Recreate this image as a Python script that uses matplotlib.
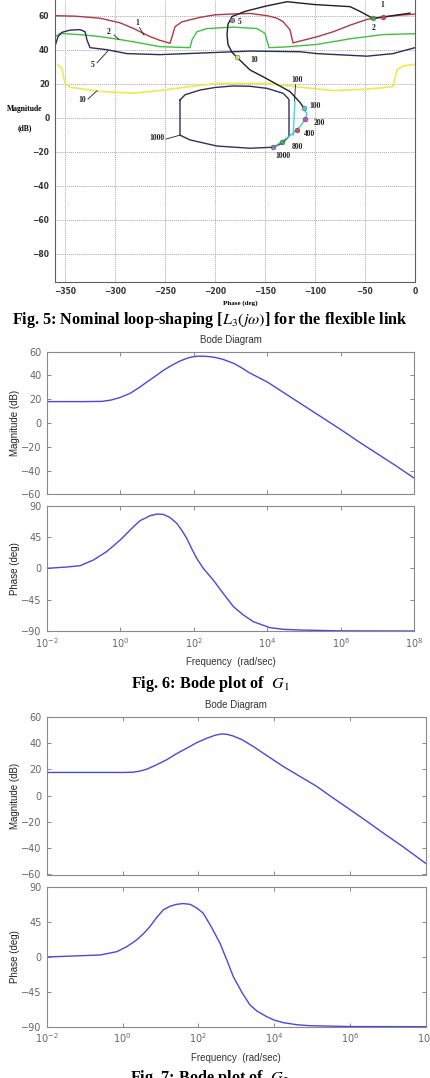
import numpy as np
import matplotlib
matplotlib.use("Agg")
import matplotlib.pyplot as plt

plt.rcParams["mathtext.fontset"] = "stix"

W, H = 431, 1078

# ---- Fig. 5: Nichols chart data (phase deg, magnitude dB) ----
b1_phase = [-360, -340, -315, -295, -282, -265, -255, -245, -243, -240, -233, -215, -200, -182, -165, -148, -138, -132, -125, -122,
            -110, -98, -82, -65, -48, -32, -15, 0]
b1_mag = [60, 59.7, 58.5, 55.8, 52.6, 47.7, 45.5, 43.8, 47.5, 53.5, 56.4, 59, 60.5, 61, 61.3, 60, 58.5, 56.5, 51.7, 44,
          45.8, 47.6, 50.5, 54.4, 57.8, 59.2, 60.3, 60.9]

b2_phase = [-360, -355, -332, -315, -290, -255, -225, -223, -218, -208, -182, -158, -150, -146, -130, -98, -65, -32, 0]
b2_mag = [47.5, 49.6, 48.7, 47.7, 45.5, 41.8, 41.2, 45.7, 50.6, 52.4, 53.3, 52.4, 49.6, 41.2, 41.6, 43.1, 46.4, 48.9, 49.4]

b5_phase = [-360, -357, -353, -345, -335, -330, -328, -325, -308, -288, -255, -198, -165, -115, -98, -48, -22, 0]
b5_mag = [42, 47.7, 50.2, 51.5, 51.8, 50.6, 45.7, 41.2, 40, 37.7, 37.1, 38.4, 39.2, 38.8, 37.7, 36.2, 37.7, 41.2]

b10_phase = [-357, -353, -350, -345, -315, -282, -255, -230, -198, -148, -115, -82, -48, -22, -18, -12, 0]
b10_mag = [31, 29, 20.2, 18, 15.5, 14.5, 16, 18, 20.2, 20.2, 18, 16, 16.8, 18.3, 28.1, 30.5, 31.3]

l3_phase = [-5, -32, -42, -55, -65, -100, -128, -150, -170, -183, -187, -188, -187, -183, -178, -165, -150, -125, -115, -111]
l3_mag = [61.5, 59.2, 58.4, 62.5, 65.3, 66.5, 68.2, 65.5, 62.5, 59.5, 55, 49, 43, 38.5, 35.5, 28.1, 23.5, 15.4, 9, 5.6]
l3_tail_phase = [-111, -108, -110, -114, -118.3, -126, -133.3, -141.7]
l3_tail_mag = [5.6, 2, -0.9, -4.5, -7.2, -11, -14, -17.3]

loop_phase = [-235, -230, -215, -200, -182, -165, -148, -132, -127, -126, -126, -133, -142, -165, -198, -225, -235, -235]
loop_mag = [10.4, 13.5, 16.3, 17.8, 18.7, 18.5, 17.3, 14.4, 11.5, 10.4, -11, -15, -17.3, -17.9, -16.6, -13, -10.2, 10.4]
cyan_phase = [-120, -121, -121.7]
cyan_mag = [9.5, 0, -10.2]

marker_freqs = ["1", "2", "5", "10", "100", "200", "400", "800", "1000"]
marker_phase = [-32, -42, -183, -178, -111, -110, -118.3, -133.3, -141.7]
marker_mag = [59.2, 58.4, 57.5, 35.5, 5.6, -0.9, -7.2, -14, -17.3]
marker_colors = ["#d04050", "#40b040", "#8080a8", "#e8e860", "#40d0e0", "#d040c0", "#d04050", "#40b040", "#8070c0"]

# ---- Fig. 6 / Fig. 7: Bode data (log10 frequency, value) ----
g1_mag_exp = [-2, -1, -0.5, -0.25, 0, 0.27, 0.5, 0.75, 1.0, 1.2, 1.4, 1.6, 1.8, 1.95, 2.1, 2.3, 2.5, 2.65, 2.8, 2.95,
              3.1, 3.3, 3.5, 3.75, 4, 4.5, 5, 5.5, 6, 6.5, 7, 7.5, 8]
g1_mag = [18, 18, 18.2, 19.3, 21.5, 25, 29.5, 35, 40.4, 44.8, 48.5, 51.8, 54.3, 55.6, 56.2, 56.2, 55.6, 54.7, 53.5, 51.8,
          50, 46.5, 42.5, 38.5, 34.5, 24.5, 14.5, 4.5, -5.5, -16, -26, -36, -46.5]
g1_ph_exp = [-2, -1.46, -1.09, -0.73, -0.37, 0, 0.36, 0.54, 0.72, 0.81, 1.0, 1.17, 1.35, 1.54, 1.67, 1.81, 1.94, 2.08,
             2.26, 2.53, 2.8, 3.08, 3.35, 3.62, 4.07, 4.44, 4.89, 6, 8]
g1_ph = [0, 1.9, 3.8, 12, 24, 40.7, 59.8, 68.5, 73.2, 75.6, 78, 77.5, 73.2, 64.6, 55, 43.1, 28.7, 14.4,
         0, -16.7, -35.9, -55, -67, -76.6, -85.2, -87.6, -88.6, -89.8, -90]

g2_mag_exp = [-2, -1, 0, 0.28, 0.45, 0.64, 0.9, 1.16, 1.4, 1.69, 1.95, 2.22, 2.45, 2.61, 2.75, 2.92, 3.15, 3.45, 3.8,
              4.24, 4.7, 5.12, 5.5, 6.0, 6.4, 6.87, 7.4, 8]
g2_mag = [17.6, 17.6, 17.6, 17.8, 18.6, 20.1, 23.5, 27.2, 31.5, 36, 40.2, 43.6, 46, 46.9, 46.6, 45.3, 42.5, 37.3, 30.5,
          22.1, 14.2, 7, -0.8, -10.7, -18.7, -28.4, -39, -51.7]
g2_ph_exp = [-2, -1.3, -0.59, -0.15, 0.11, 0.37, 0.55, 0.72, 0.9, 1.07, 1.25, 1.42, 1.6, 1.78, 1.95, 2.13, 2.35, 2.57,
             2.75, 2.92, 3.15, 3.36, 3.55, 3.8, 4.0, 4.24, 4.6, 4.94, 6, 8]
g2_ph = [0, 1.3, 2.6, 6.9, 13.3, 22, 30, 39.2, 51, 60.7, 65.5, 68, 69, 68, 63.5, 56.4, 38, 17.6,
         -4, -25.4, -46, -62, -70, -77.1, -81.5, -84.8, -87.5, -88.7, -89.8, -90]

fig = plt.figure(figsize=(W / 100, H / 100), dpi=100)


def px_axes(left, top, right, bottom):
    return fig.add_axes([left / W, 1 - bottom / H, (right - left) / W, (bottom - top) / H])


def fig_text(x, y, s, **kw):
    fig.text(x / W, 1 - y / H, s, **kw)


# ---------------- Nichols chart ----------------
ax = px_axes(55, 0, 415, 281.7)
ax.set_xlim(-360, 0)
ax.set_ylim(-96.3, 69.2)
ax.set_xticks(np.arange(-350, 1, 50))
ax.set_yticks(np.arange(-80, 61, 20))
ax.grid(True, color="#a8a8a8", lw=0.7, ls=(0, (1, 1)))
ax.set_axisbelow(True)
ax.spines["top"].set_visible(False)
for s in ["left", "right", "bottom"]:
    ax.spines[s].set_color("#606060")
ax.tick_params(length=0, labelsize=5.5, pad=4, colors="#333333")
for lab in ax.get_xticklabels() + ax.get_yticklabels():
    lab.set_fontweight("bold")

ax.plot(b1_phase, b1_mag, color="#b03848", lw=1)
ax.plot(b2_phase, b2_mag, color="#40c040", lw=1)
ax.plot(b5_phase, b5_mag, color="#2c2c5c", lw=1)
ax.plot(b10_phase, b10_mag, color="#e4ee50", lw=1.2)
ax.plot(loop_phase, loop_mag, color="#303058", lw=1)
ax.plot(cyan_phase, cyan_mag, color="#40d8e8", lw=1)
ax.plot(l3_phase, l3_mag, color="#202020", lw=1)
ax.plot(l3_tail_phase, l3_tail_mag, color="#40c8e0", lw=1)
for p, m, c in zip(marker_phase, marker_mag, marker_colors):
    ax.plot(p, m, "o", ms=3.5, mfc=c, mec="#505050", mew=0.4, alpha=0.9)

lab_kw = dict(fontsize=5.5, fontweight="bold", family="Liberation Serif", color="#202020", ha="center", va="center")
leader = dict(color="#202020", lw=0.6)
ax.text(-278, 55.5, "1", **lab_kw)
ax.plot([-275.5, -271], [53, 48.6], **leader)
ax.text(-306, 50.6, "2", **lab_kw)
ax.plot([-301, -296], [48.7, 46], **leader)
ax.text(-322, 31, "5", **lab_kw)
ax.plot([-318, -307], [32.3, 39.3], **leader)
ax.text(-333, 10.4, "10", **lab_kw)
ax.plot([-327, -318], [11, 15.9], **leader)
ax.text(-33, 66.3, "1", **lab_kw)
ax.text(-41, 52.6, "2", **lab_kw)
ax.text(-175, 56.5, "5", **lab_kw)
ax.text(-161, 34, "10", **lab_kw)
ax.text(-118, 22.2, "100", **lab_kw)
ax.plot([-119.5, -120.5], [19.5, 10], **leader)
ax.text(-100, 7, "100", **lab_kw)
ax.text(-96, -3.2, "200", **lab_kw)
ax.text(-105, -9.5, "400", **lab_kw)
ax.text(-118, -17.3, "800", **lab_kw)
ax.text(-132, -22.4, "1000", **lab_kw)
ax.text(-258, -12, "1000", **lab_kw)
ax.plot([-249, -235], [-12.5, -10.2], **leader)

fig_text(25, 109, "Magnitude", fontsize=5.5, fontweight="bold", family="Liberation Serif", ha="center", va="center")
fig_text(25, 128, "(dB)", fontsize=5.5, fontweight="bold", family="Liberation Serif", ha="center", va="center")
fig_text(240, 303, "Phase (deg)", fontsize=5, fontweight="bold", family="Liberation Serif", ha="center", va="center")
fig_text(210, 320.5, r"Fig. 5: Nominal loop-shaping [$L_3(j\omega)$] for the flexible link",
         fontsize=11.7, fontweight="bold", family="Liberation Serif", ha="center", va="center")


# ---------------- Bode plots ----------------
def bode_axes(top_mag, bot_mag, top_ph, bot_ph, right, mag_exp, mag, ph_exp, ph, title_y, xlab_y):
    ax_m = px_axes(46.7, top_mag, right, bot_mag)
    ax_p = px_axes(46.7, top_ph, right, bot_ph)
    for a in (ax_m, ax_p):
        a.set_xscale("log")
        a.set_xlim(1e-2, 1e8)
        a.set_xticks([1e-2, 1e0, 1e2, 1e4, 1e6, 1e8])
        a.minorticks_off()
        a.tick_params(direction="in", top=True, right=True, length=3, labelsize=7, colors="#777777",
                      labelcolor="#666666", width=0.6)
        for s in a.spines.values():
            s.set_color("#8a8a8a")
            s.set_linewidth(0.8)
    ax_m.plot(np.power(10.0, mag_exp), mag, color="#4848e0", lw=1)
    ax_m.set_ylim(-60, 60)
    ax_m.set_yticks(np.arange(-60, 61, 20))
    ax_m.set_xticklabels([])
    ax_m.set_ylabel("Magnitude (dB)", fontsize=7, color="#222222", labelpad=1, family="Liberation Sans")
    ax_p.plot(np.power(10.0, ph_exp), ph, color="#4848e0", lw=1)
    ax_p.set_ylim(-90, 90)
    ax_p.set_yticks([-90, -45, 0, 45, 90])
    ax_p.set_ylabel("Phase (deg)", fontsize=7, color="#222222", labelpad=1, family="Liberation Sans")
    fig_text((46.7 + right) / 2, title_y, "Bode Diagram", fontsize=7, color="#333333",
             family="Liberation Sans", ha="center", va="center")
    fig_text((46.7 + right) / 2, xlab_y, "Frequency  (rad/sec)", fontsize=7, color="#333333",
             family="Liberation Sans", ha="center", va="center")


bode_axes(351.7, 494.3, 505.7, 631, 414.3, g1_mag_exp, g1_mag, g1_ph_exp, g1_ph, 340, 662)
fig_text(210, 684, r"Fig. 6: Bode plot of  $G_1$", fontsize=11.7, fontweight="bold",
         family="Liberation Serif", ha="center", va="center")

bode_axes(716.7, 874.5, 887.3, 1026.7, 426, g2_mag_exp, g2_mag, g2_ph_exp, g2_ph, 705, 1058)
fig_text(210, 1067.5, r"Fig. 7: Bode plot of  $G_2$", fontsize=11.7, fontweight="bold",
         family="Liberation Serif", ha="center", va="top")

fig.savefig("out.png", dpi=100)
